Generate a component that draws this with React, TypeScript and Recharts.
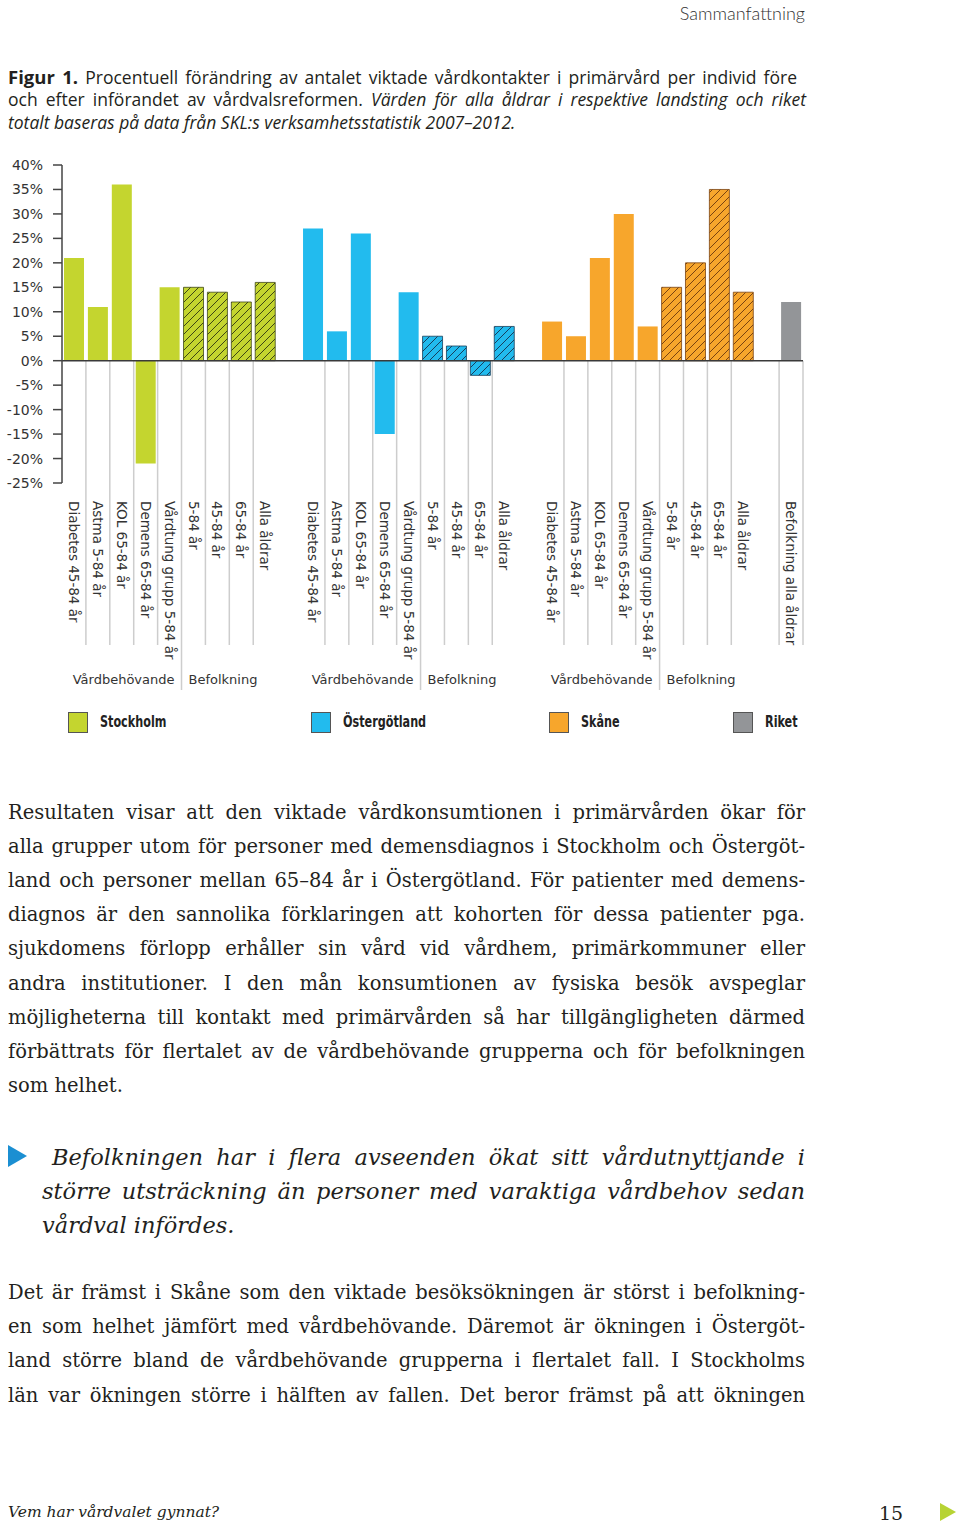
import React from 'react';
import { Bar, BarChart, Cell, ReferenceLine, XAxis, YAxis } from 'recharts';

const countyCategories = [
  'Diabetes 45-84 år',
  'Astma 5-84 år',
  'KOL 65-84 år',
  'Demens 65-84 år',
  'Vårdtung grupp 5-84 år',
  '5-84 år',
  '45-84 år',
  '65-84 år',
  'Alla åldrar',
];
const riketCategories = ['Befolkning alla åldrar'];
const groupLabels = ['Vårdbehövande', 'Befolkning'];
const needCount = 5; // first five categories are "Vårdbehövande"

const stockholm = [21, 11, 36, -21, 15, 15, 14, 12, 16];
const ostergotland = [27, 6, 26, -15, 14, 5, 3, -3, 7];
const skane = [8, 5, 21, 30, 7, 15, 20, 35, 14];
const riket = [12];

const yTicks = [40, 35, 30, 25, 20, 15, 10, 5, 0, -5, -10, -15, -20, -25];

const regions = ['Stockholm', 'Östergötland', 'Skåne', 'Riket'];
const palette: Record<string, { fill: string; ink: string }> = {
  Stockholm: { fill: '#c4d52f', ink: '#3d4614' },
  Östergötland: { fill: '#22bbee', ink: '#173f5c' },
  Skåne: { fill: '#f7a62c', ink: '#7a4310' },
  Riket: { fill: '#939598', ink: '#444' },
};

type Row = {
  id: string;
  label: string;
  value: number | null;
  region: string;
  pos: number;
  county: boolean;
  hatched: boolean;
};

const seriesList = [
  { region: 'Stockholm', cats: countyCategories, values: stockholm },
  { region: 'Östergötland', cats: countyCategories, values: ostergotland },
  { region: 'Skåne', cats: countyCategories, values: skane },
  { region: 'Riket', cats: riketCategories, values: riket },
];

const rows: Row[] = [];
seriesList.forEach((s, gi) => {
  if (gi > 0) {
    rows.push({ id: `gap${gi}`, label: '', value: null, region: '', pos: -1, county: false, hatched: false });
  }
  const county = s.cats === countyCategories;
  s.cats.forEach((c, i) => {
    rows.push({
      id: `${gi}-${i}`,
      label: c,
      value: s.values[i],
      region: s.region,
      pos: i,
      county,
      hatched: county && i >= needCount,
    });
  });
});
const rowById: Record<string, Row> = {};
rows.forEach((r) => (rowById[r.id] = r));

// separator lines under the zero line (values in axis units, below the domain)
const SEP_SHORT = -58.1;
const SEP_LONG = -67.3;
const separators: { x: string; position: 'start' | 'end'; long: boolean }[] = [];
rows.forEach((r) => {
  if (r.county && r.pos < countyCategories.length - 1) {
    separators.push({ x: r.id, position: 'end', long: r.pos === needCount - 1 });
  } else if (!r.county && r.region) {
    separators.push({ x: r.id, position: 'start', long: false });
    separators.push({ x: r.id, position: 'end', long: false });
  }
});

const chartFont = "'DejaVu Sans', sans-serif";

function CategoryTick(props: any) {
  const { x, y, payload } = props;
  const row = rowById[payload.value];
  if (!row || !row.label) return null;
  const half = payload.offset ?? 12;
  return (
    <g>
      <text
        transform={`translate(${x},${y + 18}) rotate(90)`}
        dy="0.36em"
        fontSize={13.5}
        fontFamily={chartFont}
        fill="#333"
        textAnchor="start"
      >
        {row.label}
      </text>
      {row.county && row.pos === needCount - 1 && (
        <>
          <text x={x + half - 7} y={y + 201} textAnchor="end" fontSize={13} fontFamily={chartFont} fill="#333">
            {groupLabels[0]}
          </text>
          <text x={x + half + 7} y={y + 201} textAnchor="start" fontSize={13} fontFamily={chartFont} fill="#333">
            {groupLabels[1]}
          </text>
        </>
      )}
    </g>
  );
}

function TextLine(props: {
  c: number;
  left?: number;
  width?: number;
  size: number;
  lh: number;
  justify?: boolean;
  italic?: boolean;
  font: string;
  color?: string;
  children: React.ReactNode;
}) {
  const { c, left = 8, width = 797, size, lh, justify, italic, font, color = '#231f20', children } = props;
  return (
    <div
      style={{
        position: 'absolute',
        top: c - lh / 2 + 1,
        left,
        width,
        fontSize: size,
        lineHeight: `${lh}px`,
        fontFamily: font,
        fontStyle: italic ? 'italic' : 'normal',
        textAlign: justify ? 'justify' : 'left',
        textAlignLast: justify ? 'justify' : 'left',
        whiteSpace: 'nowrap',
        color,
      }}
    >
      {children}
    </div>
  );
}

const serif = "'DejaVu Serif', serif";
const sans = "'Open Sans', Lato, sans-serif";

const para1 = [
  'Resultaten visar att den viktade vårdkonsumtionen i primärvården ökar för',
  'alla grupper utom för personer med demensdiagnos i Stockholm och Östergöt-',
  'land och personer mellan 65–84 år i Östergötland. För patienter med demens-',
  'diagnos är den sannolika förklaringen att kohorten för dessa patienter pga.',
  'sjukdomens förlopp erhåller sin vård vid vårdhem, primärkommuner eller',
  'andra institutioner. I den mån konsumtionen av fysiska besök avspeglar',
  'möjligheterna till kontakt med primärvården så har tillgängligheten därmed',
  'förbättrats för flertalet av de vårdbehövande grupperna och för befolkningen',
  'som helhet.',
];
const quote = [
  'Befolkningen har i flera avseenden ökat sitt vårdutnyttjande i',
  'större utsträckning än personer med varaktiga vårdbehov sedan',
  'vårdval infördes.',
];
const para2 = [
  'Det är främst i Skåne som den viktade besöksökningen är störst i befolkning-',
  'en som helhet jämfört med vårdbehövande. Däremot är ökningen i Östergöt-',
  'land större bland de vårdbehövande grupperna i flertalet fall. I Stockholms',
  'län var ökningen större i hälften av fallen. Det beror främst på att ökningen',
];

const legendLeft = [68, 311, 549, 733];

export default function App() {
  return (
    <div
      style={{
        position: 'absolute',
        left: 0,
        top: 0,
        width: 960,
        height: 1524,
        background: '#fff',
        overflow: 'hidden',
      }}
    >
      <div
        style={{
          position: 'absolute',
          top: 1,
          right: 155,
          fontFamily: "Lato, sans-serif",
          fontSize: 18,
          lineHeight: '24px',
          color: '#333',
          fontWeight: 300,
        }}
      >
        Sammanfattning
      </div>

      <TextLine c={75} size={17.5} lh={23} font={sans} justify width={789}>
        <b style={{ fontSize: 18.5 }}>Figur 1.</b> Procentuell förändring av antalet viktade vårdkontakter i primärvård per individ före
      </TextLine>
      <TextLine c={98} size={17.5} lh={23} font={sans} justify width={798}>
        och efter införandet av vårdvalsreformen. <i>Värden för alla åldrar i respektive landsting och riket</i>
      </TextLine>
      <TextLine c={121} size={17.5} lh={23} font={sans}>
        <i>totalt baseras på data från SKL:s verksamhetsstatistik 2007–2012.</i>
      </TextLine>

      <div style={{ position: 'absolute', left: 0, top: 150 }}>
        <BarChart
          width={960}
          height={553}
          data={rows}
          margin={{ top: 15, right: 157, bottom: 0, left: 0 }}
          barSize={20}
        >
          <defs>
            {regions.map((r) => (
              <pattern
                key={r}
                id={`hatch-${r}`}
                patternUnits="userSpaceOnUse"
                width={8}
                height={8}
              >
                <rect width={8} height={8} fill={palette[r].fill} />
                <path
                  d="M0,8 L8,0 M-2,2 L2,-2 M6,10 L10,6"
                  stroke={palette[r].ink}
                  strokeWidth={1}
                />
              </pattern>
            ))}
          </defs>
          <XAxis
            dataKey="id"
            type="category"
            interval={0}
            axisLine={false}
            tickLine={false}
            tickSize={0}
            tickMargin={0}
            height={220}
            tick={(p: any) => <CategoryTick {...p} />}
          />
          <YAxis
            type="number"
            domain={[-25, 40]}
            ticks={yTicks}
            interval={0}
            width={62}
            tickSize={9}
            tickMargin={10}
            axisLine={{ stroke: '#444', strokeWidth: 1.5 }}
            tickLine={{ stroke: '#444', strokeWidth: 1.5 }}
            tick={{ fill: '#333', fontSize: 14, fontFamily: chartFont }}
            tickFormatter={(v: number) => `${v}%`}
          />
          {separators.map((s, i) => (
            <ReferenceLine
              key={i}
              segment={[
                { x: s.x, y: 0 },
                { x: s.x, y: s.long ? SEP_LONG : SEP_SHORT },
              ]}
              position={s.position}
              ifOverflow="visible"
              stroke="#cdcdcd"
              strokeWidth={1.5}
            />
          ))}
          <Bar dataKey="value" isAnimationActive={false}>
            {rows.map((r) => (
              <Cell
                key={r.id}
                fill={r.region ? (r.hatched ? `url(#hatch-${r.region})` : palette[r.region].fill) : 'none'}
                stroke={r.hatched ? palette[r.region].ink : 'none'}
                strokeWidth={r.hatched ? 0.8 : 0}
              />
            ))}
          </Bar>
          <ReferenceLine y={0} stroke="#3a3a3a" strokeWidth={1.5} />
        </BarChart>
      </div>

      {regions.map((r, i) => (
        <div
          key={r}
          style={{ position: 'absolute', left: legendLeft[i], top: 712, height: 20, display: 'flex', alignItems: 'center' }}
        >
          <div
            style={{
              width: 18,
              height: 19,
              background: palette[r].fill,
              border: '1px solid #555',
            }}
          />
          <span
            style={{
              marginLeft: 12,
              display: 'inline-block',
              transform: 'scaleX(0.83)',
              transformOrigin: 'left center',
              fontFamily: "'DejaVu Sans Condensed', 'DejaVu Sans', sans-serif",
              fontWeight: 700,
              fontSize: 15,
              color: '#222',
            }}
          >
            {r}
          </span>
        </div>
      ))}

      {para1.map((t, i) => (
        <TextLine key={t} c={812 + i * 34.1} size={19.5} lh={34} font={serif} justify={i < para1.length - 1}>
          {t}
        </TextLine>
      ))}

      <svg style={{ position: 'absolute', left: 8, top: 1145 }} width={19} height={22}>
        <polygon points="0,0 19,11 0,22" fill="#1b8fd2" />
      </svg>
      {quote.map((t, i) => (
        <TextLine
          key={t}
          c={1156 + i * 34.2}
          left={i === 0 ? 52 : 42}
          width={i === 0 ? 753 : 763}
          size={22.5}
          lh={34}
          italic
          font={serif}
          justify={i < quote.length - 1}
        >
          {t}
        </TextLine>
      ))}

      {para2.map((t, i) => (
        <TextLine key={t} c={1292 + i * 34.2} size={19.5} lh={34} font={serif} justify>
          {t}
        </TextLine>
      ))}

      <TextLine c={1511} size={15.5} lh={24} italic font={serif}>
        Vem har vårdvalet gynnat?
      </TextLine>
      <TextLine c={1512} left={879} width={40} size={19} lh={24} font={serif}>
        15
      </TextLine>
      <svg style={{ position: 'absolute', left: 940, top: 1503 }} width={16} height={18}>
        <polygon points="0,0 16,9 0,18" fill="#b7d334" />
      </svg>
    </div>
  );
}
